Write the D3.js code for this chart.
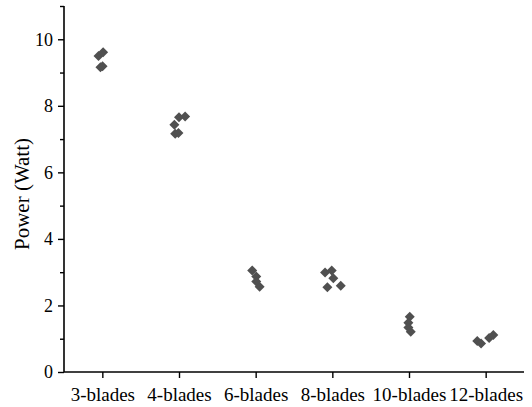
<!DOCTYPE html>
<html>
<head>
<meta charset="utf-8">
<script src="https://cdn.jsdelivr.net/npm/d3@7"></script>
<style>
  html, body { margin: 0; padding: 0; background: #fff; }
  svg { display: block; }
  text { font-family: "Liberation Serif", "Times New Roman", serif; fill: #000; }
</style>
</head>
<body>
<svg id="chart" width="532" height="407"></svg>
<script>
// Categories and tick labels
const categories = ["3-blades", "4-blades", "6-blades", "8-blades", "10-blades", "12-blades"];
const yTicks = [0, 2, 4, 6, 8, 10];

// Each measurement: category index, small horizontal jitter (in category units), power (W)
const pointCategory = [0, 0, 0, 0,
                       1, 1, 1, 1, 1,
                       2, 2, 2, 2,
                       3, 3, 3, 3, 3,
                       4, 4, 4, 4,
                       5, 5, 5, 5];
const pointJitter = [-0.05, 0.01, -0.025, 0.003,
                     0.0, 0.08, -0.06, -0.05, -0.007,
                     -0.045, 0.008, 0.008, 0.052,
                     -0.095, -0.008, 0.013, -0.065, 0.11,
                     0.01, -0.008, -0.008, 0.023,
                     -0.11, -0.06, 0.045, 0.1];
const pointPower = [9.50, 9.61, 9.16, 9.19,
                    7.66, 7.68, 7.43, 7.16, 7.18,
                    3.05, 2.87, 2.72, 2.56,
                    2.99, 3.05, 2.82, 2.55, 2.59,
                    1.66, 1.48, 1.34, 1.21,
                    0.93, 0.86, 1.02, 1.11];

const svg = d3.select("#chart");
const margin = { left: 64, right: 8, top: 6, bottom: 35 };
const W = 532, H = 407;

const x = d3.scaleLinear()
  .domain([-0.5, categories.length - 0.5])
  .range([margin.left, W - margin.right]);
const y = d3.scaleLinear()
  .domain([0, 11])
  .range([H - margin.bottom, margin.top]);

// Y axis (major + minor ticks)
const yAxis = d3.axisLeft(y)
  .tickValues(yTicks)
  .tickSize(6)
  .tickPadding(5)
  .tickFormat(d3.format("d"));
const yMinor = d3.axisLeft(y)
  .tickValues([1, 3, 5, 7, 9, 11])
  .tickSize(4)
  .tickFormat("");

const gy = svg.append("g").attr("transform", `translate(${margin.left},0)`).call(yAxis);
svg.append("g").attr("transform", `translate(${margin.left},0)`).call(yMinor)
  .call(g => g.select(".domain").remove());

// X axis
const xAxis = d3.axisBottom(x)
  .tickValues(d3.range(categories.length))
  .tickSize(6)
  .tickPadding(10)
  .tickFormat(i => categories[i]);
const gx = svg.append("g").attr("transform", `translate(0,${H - margin.bottom})`).call(xAxis);

[gx, gy].forEach(g => {
  g.select(".domain").attr("stroke", "#000").attr("stroke-width", 1.6);
  g.selectAll(".tick text").style("font-family", '"Liberation Serif", serif').attr("fill", "#000");
});
gy.selectAll(".tick text").style("font-size", "18px");
gx.selectAll(".tick text").style("font-size", "19px");
svg.selectAll(".tick line").attr("stroke", "#000").attr("stroke-width", 1.4);
gy.select(".domain").attr("d", `M0,${y(0)}V${y(11)}`);
gx.select(".domain").attr("d", `M${x(-0.5)},0H${x(categories.length - 0.5)}`);

// Y axis title
svg.append("text")
  .attr("transform", `translate(22,${(y(0) + y(11)) / 2 + 5}) rotate(-90)`)
  .attr("text-anchor", "middle")
  .attr("dominant-baseline", "central")
  .style("font-size", "21px")
  .text("Power (Watt)");

// Points: rotated squares (diamonds)
const sym = d3.symbol().type(d3.symbolSquare).size(50);
svg.append("g").selectAll("path")
  .data(pointPower.map((v, i) => ({ c: pointCategory[i], j: pointJitter[i], v })))
  .join("path")
  .attr("d", sym)
  .attr("transform", d => `translate(${x(d.c + d.j)},${y(d.v)}) rotate(45)`)
  .attr("fill", "#505050");
</script>
</body>
</html>
